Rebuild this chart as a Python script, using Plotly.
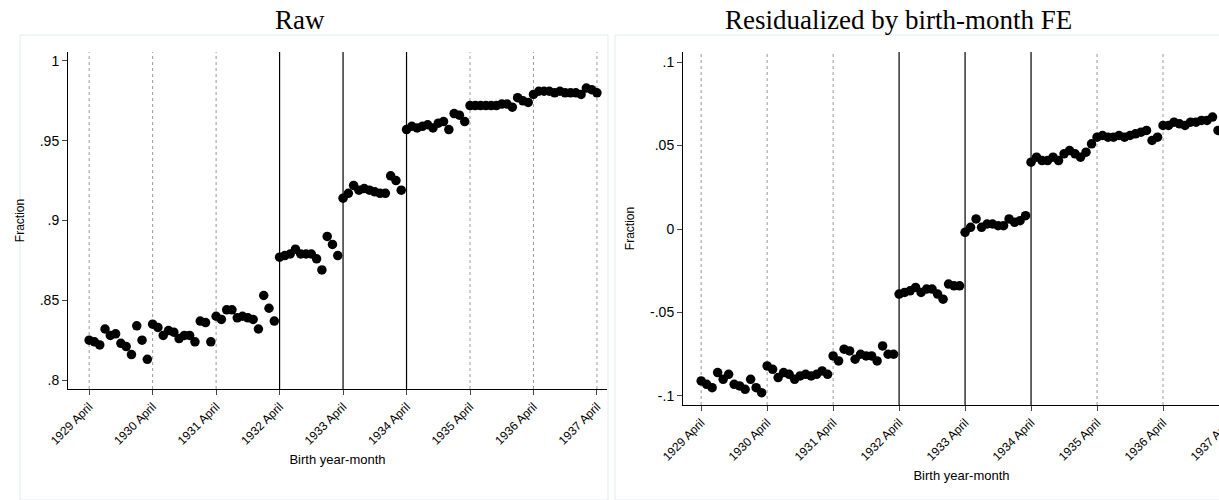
import plotly.graph_objects as go

years = [1929, 1930, 1931, 1932, 1933, 1934, 1935, 1936, 1937]
tick_labels = [f"{y} April" for y in years]

raw = [
    .825, .824, .822, .832, .828, .829, .823, .821, .816, .834, .825, .813,
    .835, .833, .828, .831, .830, .826, .828, .828, .824, .837, .836, .824,
    .840, .838, .844, .844, .839, .840, .839, .838, .832, .853, .845, .837,
    .877, .878, .879, .882, .879, .879, .879, .876, .869, .890, .885, .878,
    .914, .917, .922, .919, .920, .919, .918, .917, .917, .928, .925, .919,
    .957, .959, .958, .959, .960, .958, .961, .962, .957, .967, .966, .962,
    .972, .972, .972, .972, .972, .972, .973, .973, .971, .977, .975, .974,
    .979, .981, .981, .981, .980, .981, .980, .980, .980, .979, .983, .982,
    .980,
]
resid = [
    -.091, -.093, -.095, -.086, -.090, -.087, -.093, -.094, -.096, -.090, -.095, -.098,
    -.082, -.084, -.089, -.086, -.087, -.090, -.088, -.087, -.088, -.087, -.085, -.087,
    -.076, -.079, -.072, -.073, -.078, -.075, -.076, -.076, -.079, -.070, -.075, -.075,
    -.039, -.038, -.037, -.035, -.038, -.036, -.036, -.039, -.042, -.033, -.034, -.034,
    -.002, .001, .006, .001, .003, .003, .002, .002, .006, .004, .005, .008,
    .040, .043, .041, .041, .043, .041, .045, .047, .045, .043, .046, .051,
    .055, .056, .055, .055, .056, .055, .056, .057, .058, .059, .053, .055,
    .062, .062, .064, .063, .062, .064, .064, .065, .065, .067, .059, .061,
    .062,
]
months = list(range(len(raw)))
tickvals = [12 * i for i in range(len(years))]
solid_lines = [36, 48, 60]

W = 1240
fig = go.Figure()
fig.add_trace(go.Scatter(x=months, y=raw, mode="markers", marker=dict(size=9.5, color="black"),
                         xaxis="x", yaxis="y", showlegend=False, cliponaxis=False))
fig.add_trace(go.Scatter(x=months, y=resid, mode="markers", marker=dict(size=9.5, color="black"),
                         xaxis="x2", yaxis="y2", showlegend=False, cliponaxis=False))

shapes = []
for xr, yr in (("x", "y"), ("x2", "y2")):
    for t in tickvals:
        solid = t in solid_lines
        shapes.append(dict(type="line", xref=xr, yref=f"{yr} domain", x0=t, x1=t, y0=0, y1=1,
                           line=dict(color="black" if solid else "#999999", width=1.2 if solid else 1,
                                     dash="solid" if solid else "dot"), layer="below"))
shapes.append(dict(type="rect", xref="paper", yref="paper", x0=20/W, x1=608/W, y0=0, y1=1-35/500,
                   line=dict(color="#e3eaea", width=1), layer="below"))
shapes.append(dict(type="rect", xref="paper", yref="paper", x0=615/W, x1=1.01, y0=0, y1=1-35/500,
                   line=dict(color="#e3eaea", width=1), layer="below"))

axfont = dict(family="Liberation Sans, Arial", size=13, color="black")
xcommon = dict(tickvals=tickvals, ticktext=tick_labels, tickangle=-45, ticks="outside", ticklen=5,
               showline=True, linecolor="black", showgrid=False, zeroline=False, automargin=False,
               tickfont=dict(family="Liberation Sans, Arial", size=12, color="black"),
               title=dict(text="Birth year-month", font=axfont, standoff=8))
ycommon = dict(ticks="outside", ticklen=5, showline=True, linecolor="black", showgrid=False,
               zeroline=False, tickfont=dict(family="Liberation Sans, Arial", size=14, color="black"),
               tickangle=0, automargin=False,
               title=dict(text="Fraction", font=dict(family="Liberation Sans, Arial", size=12, color="black"), standoff=12))

title_font = dict(family="Liberation Serif, Times New Roman", size=27, color="black")
fig.update_layout(
    width=W, height=500, margin=dict(l=0, r=0, t=0, b=0, autoexpand=False),
    plot_bgcolor="white", paper_bgcolor="white",
    xaxis=dict(domain=[68/W, 607/W], range=[-4, 97.9], anchor="y", **xcommon),
    yaxis=dict(domain=[1-389/500, 1-52/500], range=[0.7944, 1.0056], anchor="x",
               tickvals=[.8, .85, .9, .95, 1], ticktext=[".8", ".85", ".9", ".95", "1"], **ycommon),
    xaxis2=dict(domain=[683/W, 1], range=[-3.3, 98], anchor="y2", **xcommon),
    yaxis2=dict(domain=[1-405/500, 1-52/500], range=[-0.1054, 0.106], anchor="x2",
                tickvals=[-.1, -.05, 0, .05, .1], ticktext=["-.1", "-.05", "0", ".05", ".1"], **ycommon),
    shapes=shapes,
    annotations=[
        dict(text="Raw", x=300/W, y=1-20/500, xref="paper", yref="paper", showarrow=False,
             xanchor="center", yanchor="middle", font=title_font),
        dict(text="Residualized by birth-month FE", x=898/W, y=1-20/500, xref="paper", yref="paper",
             xanchor="center", yanchor="middle", showarrow=False, font=title_font),
    ],
)
fig.write_html("out.html", config={"displayModeBar": False},
               post_script="document.body.style.margin='0';document.body.style.overflow='hidden';")
